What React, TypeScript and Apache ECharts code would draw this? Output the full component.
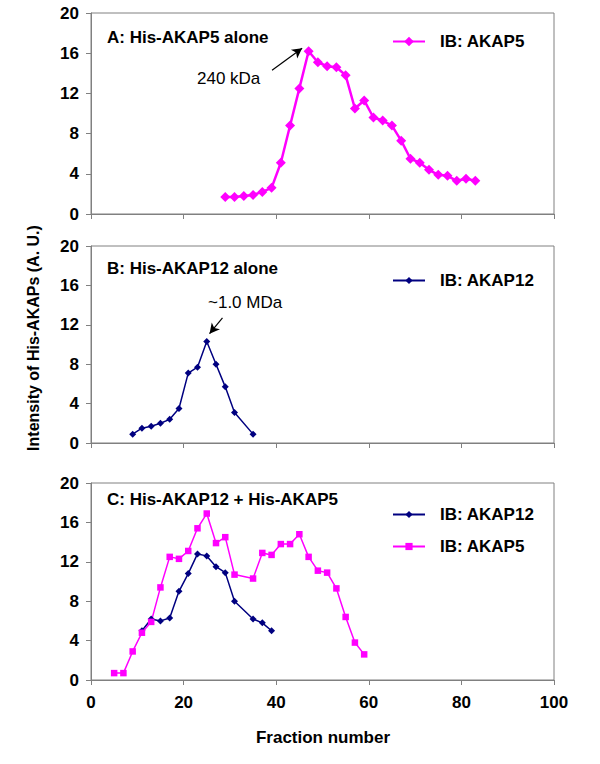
import React, { useEffect, useRef } from "react";
import * as echarts from "echarts";

// ---------- data ----------
const X_TICKS = [0, 20, 40, 60, 80, 100];
const Y_TICKS = [0, 4, 8, 12, 16, 20];

// Panel A: His-AKAP5 alone (IB: AKAP5)
const A_X = [29, 31, 33, 35, 37, 39, 41, 43, 45, 47, 49, 51, 53, 55, 57, 59, 61, 63, 65, 67, 69, 71, 73, 75, 77, 79, 81, 83];
const A_Y = [1.7, 1.7, 1.8, 1.9, 2.2, 2.6, 5.1, 8.8, 12.5, 16.2, 15.1, 14.7, 14.6, 13.8, 10.5, 11.3, 9.6, 9.3, 8.8, 7.3, 5.5, 5.1, 4.4, 3.9, 3.8, 3.3, 3.5, 3.3];

// Panel B: His-AKAP12 alone (IB: AKAP12)
const B_X = [9, 11, 13, 15, 17, 19, 21, 23, 25, 27, 29, 31, 35];
const B_Y = [0.9, 1.5, 1.7, 2.0, 2.4, 3.5, 7.1, 7.7, 10.3, 8.0, 5.7, 3.1, 0.9];

// Panel C: His-AKAP12 + His-AKAP5
const C12_X = [11, 13, 15, 17, 19, 21, 23, 25, 27, 29, 31, 35, 37, 39];
const C12_Y = [5.0, 6.2, 6.0, 6.3, 9.0, 10.8, 12.8, 12.6, 11.5, 10.9, 8.0, 6.2, 5.8, 5.0];
const C5_X = [5, 7, 9, 11, 13, 15, 17, 19, 21, 23, 25, 27, 29, 31, 35, 37, 39, 41, 43, 45, 47, 49, 51, 53, 55, 57, 59];
const C5_Y = [0.7, 0.7, 2.9, 4.8, 5.9, 9.4, 12.5, 12.3, 13.1, 15.4, 16.9, 13.9, 14.5, 10.7, 10.3, 12.9, 12.7, 13.8, 13.8, 14.8, 12.5, 11.1, 10.9, 9.3, 6.4, 3.8, 2.6];

const PANEL_TITLES = ["A: His-AKAP5 alone", "B: His-AKAP12 alone", "C: His-AKAP12 + His-AKAP5"];
const LEGEND_LABELS: Record<string, string> = {
  A5: "IB: AKAP5",
  B12: "IB: AKAP12",
  C12: "IB: AKAP12",
  C5: "IB: AKAP5",
};
const ANNOT_A = "240 kDa";
const ANNOT_B = "~1.0 MDa";
const ARROW_A = [[39.1, 14.3], [45.6, 16.5]];
const ARROW_B = [[28.4, 12.7], [25.6, 11.1]];
const Y_TITLE = "Intensity of His-AKAPs (A. U.)";
const X_TITLE = "Fraction number";

// ---------- style ----------
const FONT = '"Liberation Sans", Arial, Helvetica, sans-serif';
const MAGENTA = "#FF00FF";
const NAVY = "#000080";
const GRAY = "#808080";

const pairs = (xs: number[], ys: number[]) => xs.map((x, i) => [x, ys[i]]);

export default function App() {
  const ref = useRef<HTMLDivElement>(null);

  useEffect(() => {
    if (!ref.current) return;
    const chart = echarts.init(ref.current, undefined, { renderer: "svg" });

    const grids = [
      { left: 91, top: 13, width: 463, height: 201 },
      { left: 91, top: 246, width: 463, height: 197 },
      { left: 91, top: 483, width: 463, height: 197 },
    ];

    const xAxis = grids.map((_, i) => ({
      type: "value",
      gridIndex: i,
      min: X_TICKS[0],
      max: X_TICKS[X_TICKS.length - 1],
      interval: X_TICKS[1] - X_TICKS[0],
      axisLine: { show: true, lineStyle: { color: GRAY, width: 1 } },
      axisTick: { show: true, inside: false, length: 5, lineStyle: { color: GRAY } },
      splitLine: { show: false },
      axisLabel: {
        show: i === 2,
        margin: 14,
        color: "#000",
        fontFamily: FONT,
        fontSize: 17,
        fontWeight: "bold",
      },
    }));

    const yAxis = grids.map((_, i) => ({
      type: "value",
      gridIndex: i,
      min: Y_TICKS[0],
      max: Y_TICKS[Y_TICKS.length - 1],
      interval: Y_TICKS[1] - Y_TICKS[0],
      axisLine: { show: true, lineStyle: { color: GRAY, width: 1 } },
      axisTick: { show: true, inside: false, length: 5, lineStyle: { color: GRAY } },
      splitLine: { show: false },
      axisLabel: {
        margin: 12,
        color: "#000",
        fontFamily: FONT,
        fontSize: 17,
        fontWeight: "bold",
      },
    }));

    const arrowMark = (pts: number[][]) => ({
      silent: true,
      animation: false,
      symbol: ["none", "arrow"],
      symbolSize: [8, 10],
      lineStyle: { color: "#000", width: 1.2, type: "solid" },
      label: { show: false },
      emphasis: { disabled: true },
      data: [[{ coord: pts[0] }, { coord: pts[1] }]],
    });

    const series: any[] = [
      {
        type: "line",
        name: "A5",
        xAxisIndex: 0,
        yAxisIndex: 0,
        data: pairs(A_X, A_Y),
        symbol: "diamond",
        symbolSize: 10,
        lineStyle: { color: MAGENTA, width: 2.5 },
        itemStyle: { color: MAGENTA },
        markLine: arrowMark(ARROW_A),
      },
      {
        type: "line",
        name: "B12",
        xAxisIndex: 1,
        yAxisIndex: 1,
        data: pairs(B_X, B_Y),
        symbol: "diamond",
        symbolSize: 7,
        lineStyle: { color: NAVY, width: 1.5 },
        itemStyle: { color: NAVY },
        markLine: arrowMark(ARROW_B),
      },
      {
        type: "line",
        name: "C12",
        xAxisIndex: 2,
        yAxisIndex: 2,
        data: pairs(C12_X, C12_Y),
        symbol: "diamond",
        symbolSize: 7,
        lineStyle: { color: NAVY, width: 1.5 },
        itemStyle: { color: NAVY },
      },
      {
        type: "line",
        name: "C5",
        xAxisIndex: 2,
        yAxisIndex: 2,
        data: pairs(C5_X, C5_Y),
        symbol: "rect",
        symbolSize: 6.5,
        lineStyle: { color: MAGENTA, width: 1.5 },
        itemStyle: { color: MAGENTA },
      },
    ];

    const legendBase = {
      orient: "vertical",
      left: 392,
      padding: 0,
      itemWidth: 32,
      selectedMode: false,
      formatter: (n: string) => LEGEND_LABELS[n] ?? n,
      textStyle: {
        color: "#000",
        fontFamily: FONT,
        fontSize: 17,
        fontWeight: "bold",
        padding: [0, 0, 0, 10],
      },
    };

    const txt = (text: string, x: number, y: number, bold = true, extra: any = {}) => ({
      type: "text",
      x,
      y,
      silent: true,
      style: {
        text,
        fill: "#000",
        font: `${bold ? "bold " : ""}17px ${FONT}`,
        align: "left",
        verticalAlign: "middle",
      },
      ...extra,
    });

    chart.setOption({
      animation: false,
      backgroundColor: "#fff",
      grid: grids.map((g) => ({ ...g, show: true, borderColor: GRAY, borderWidth: 1, backgroundColor: "transparent" })),
      xAxis,
      yAxis,
      legend: [
        { ...legendBase, data: ["A5"], top: 33, itemHeight: 12 },
        { ...legendBase, data: ["B12"], top: 272, itemHeight: 9 },
        { ...legendBase, data: ["C12", "C5"], top: 506, itemHeight: 9, itemGap: 15 },
      ],
      series,
      graphic: [
        txt(PANEL_TITLES[0], 107, 37),
        txt(PANEL_TITLES[1], 107, 268),
        txt(PANEL_TITLES[2], 107, 499),
        txt(ANNOT_A, 197, 78, false),
        txt(ANNOT_B, 208, 302, false),
        {
          type: "text",
          x: 323,
          y: 737,
          silent: true,
          style: {
            text: X_TITLE,
            fill: "#000",
            font: `bold 17px ${FONT}`,
            align: "center",
            verticalAlign: "middle",
          },
        },
        {
          type: "text",
          x: 33,
          y: 338,
          rotation: Math.PI / 2,
          silent: true,
          style: {
            text: Y_TITLE,
            fill: "#000",
            font: `bold 16px ${FONT}`,
            align: "center",
            verticalAlign: "middle",
          },
        },
      ],
    });

    return () => chart.dispose();
  }, []);

  return (
    <div
      ref={ref}
      style={{ position: "fixed", left: 0, top: 0, width: 600, height: 764, background: "#fff" }}
    />
  );
}
